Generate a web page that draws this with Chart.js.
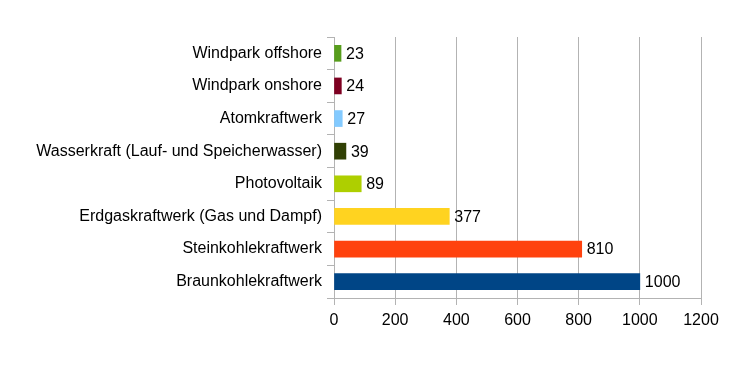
<!DOCTYPE html>
<html><head><meta charset="utf-8">
<script src="https://cdn.jsdelivr.net/npm/chart.js@4/dist/chart.umd.min.js"></script>
<style>html,body{margin:0;padding:0;background:#fff}#w{width:752px;height:391px}</style>
</head><body><div id="w"><canvas id="c" width="752" height="391"></canvas></div>
<script>
const categories = ["Windpark offshore","Windpark onshore","Atomkraftwerk","Wasserkraft (Lauf- und Speicherwasser)","Photovoltaik","Erdgaskraftwerk (Gas und Dampf)","Steinkohlekraftwerk","Braunkohlekraftwerk"];
const values = [23,24,27,39,89,377,810,1000];
const barColors = ["#579d1c","#7e0021","#83caff","#314004","#aecf00","#ffd320","#ff420e","#004586"];
const xTicks = [0,200,400,600,800,1000,1200];

const FONT = {family:"'Liberation Sans', Arial, sans-serif", size:16};
const labelPlugin = {
  id:'vlabels',
  afterDatasetsDraw(chart){
    const ctx = chart.ctx;
    const meta = chart.getDatasetMeta(0);
    ctx.save();
    ctx.font = FONT.size+"px "+FONT.family;
    ctx.fillStyle = "#000";
    ctx.textBaseline = "middle";
    ctx.textAlign = "left";
    meta.data.forEach((bar,i)=>{
      ctx.fillText(String(values[i]), bar.x+5, bar.y+1);
    });
    ctx.restore();
  }
};
new Chart(document.getElementById('c'),{
  type:'bar',
  data:{labels:categories,datasets:[{data:values,backgroundColor:barColors,barThickness:16,borderWidth:0}]},
  options:{
    indexAxis:'y',responsive:false,animation:false,
    layout:{padding:{top:37,right:51,left:0,bottom:0}},
    plugins:{legend:{display:false},tooltip:{enabled:false}},
    scales:{
      x:{min:0,max:1200,
        afterBuildTicks(s){s.ticks = xTicks.map(v=>({value:v}));},
        afterFit(s){s.height = 391-37-261;},
        grid:{color:"#b3b3b3",lineWidth:1,tickLength:7},
        border:{color:"#b3b3b3"},
        ticks:{color:"#000",font:FONT,padding:6,callback:(v)=>String(v)}
      },
      y:{
        afterFit(s){s.width = 334;},
        grid:{offset:true,drawOnChartArea:false,color:"#b3b3b3",tickLength:7},
        border:{color:"#b3b3b3"},
        ticks:{color:"#000",font:FONT,padding:5,autoSkip:false}
      }
    }
  },
  plugins:[labelPlugin]
});
</script></body></html>
